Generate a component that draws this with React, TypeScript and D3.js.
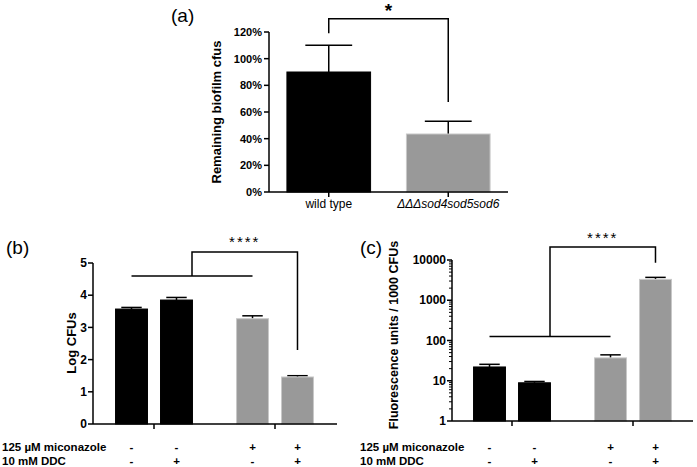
import * as d3 from "d3";

const W = 697;
const H = 467;

// (a) remaining biofilm
const aCats = ["wild type", "ΔΔΔsod4sod5sod6"];
const aMeans = [0.9, 0.435];
const aErr = [1.1, 0.53];
const aTicks = [0, 0.2, 0.4, 0.6, 0.8, 1.0, 1.2];

// (b) Log CFUs
const bMeans = [3.57, 3.85, 3.27, 1.46];
const bErr = [3.62, 3.93, 3.36, 1.5];
const bTicks = [0, 1, 2, 3, 4, 5];

// (c) fluorescence per 1000 CFUs
const cMeans = [22, 8.9, 37, 3300];
const cErr = [25.6, 9.6, 44, 3700];
const cTicks = [1, 10, 100, 1000, 10000];

const miconazole = ["-", "-", "+", "+"];
const ddc = ["-", "+", "-", "+"];
const barColors = ["#000000", "#000000", "#999999", "#999999"];

const font = "Liberation Sans, Arial, sans-serif";

function BarPanel({ y, yTicks, fmt, means, errs, axisX0, axisX1, groupRange, log, yLabel, yLabelX, yLabelY, yLabelSize, bracket, stars, starY }: any) {
  const groups = d3.scaleBand().domain(["g1", "g2"]).range(groupRange);
  const inner = d3.scaleBand().domain(["0", "1"]).range([0, groups.bandwidth()]).paddingInner(0.29).paddingOuter(0.49);
  const cx = (i: number) => groups(i < 2 ? "g1" : "g2")! + inner(String(i % 2))! + inner.bandwidth() / 2;
  const bw = inner.bandwidth();
  const y0 = y.range()[0];
  const minor: number[] = [];
  if (log) {
    for (let d = 1; d < 10000; d *= 10) for (let k = 2; k <= 9; k++) minor.push(d * k);
  }
  const [l1, l2, vx, topV, rx, rBot] = bracket;
  const yTop = y.range()[1];
  return (
    <g>
      {means.map((m: number, i: number) => (
        <g key={i}>
          <line x1={cx(i)} x2={cx(i)} y1={y(m)} y2={y(errs[i])} stroke="#000" strokeWidth={1.5} />
          <line x1={cx(i) - bw * 0.32} x2={cx(i) + bw * 0.32} y1={y(errs[i])} y2={y(errs[i])} stroke="#000" strokeWidth={1.5} />
          <rect x={cx(i) - bw / 2} y={y(m)} width={bw} height={y0 - y(m)} fill={barColors[i]} stroke={i < 2 ? "#000" : "#c8c8c8"} strokeWidth={1} />
        </g>
      ))}
      <line x1={axisX0} x2={axisX0} y1={yTop} y2={y0} stroke="#000" strokeWidth={1.5} />
      <line x1={axisX0} x2={axisX1} y1={y0} y2={y0} stroke="#000" strokeWidth={1.5} />
      {yTicks.map((t: number) => (
        <g key={t}>
          <line x1={axisX0 - 5} x2={axisX0} y1={y(t)} y2={y(t)} stroke="#000" strokeWidth={1.5} />
          <text x={axisX0 - 6} y={y(t)} dy="0.35em" textAnchor="end" fontSize={12} fontWeight="bold" fontFamily={font}>{fmt(t)}</text>
        </g>
      ))}
      {minor.map((t) => (
        <line key={t} x1={axisX0 - 3} x2={axisX0} y1={y(t)} y2={y(t)} stroke="#000" strokeWidth={1} />
      ))}
      {["g1", "g2"].map((g) => (
        <line key={g} x1={groups(g)! + groups.bandwidth() / 2} x2={groups(g)! + groups.bandwidth() / 2} y1={y0} y2={y0 + 5} stroke="#000" strokeWidth={1.5} />
      ))}
      <text transform={`translate(${yLabelX},${yLabelY}) rotate(-90)`} textAnchor="middle" fontSize={yLabelSize} fontWeight="bold" fontFamily={font}>{yLabel}</text>
      {/* comparison bracket */}
      <path d={`M${cx(l1)},${y(l2)}H${cx(2)}`} stroke="#000" strokeWidth={1.5} fill="none" />
      <path d={`M${vx},${y(l2)}V${y(topV)}H${cx(rx)}V${y(rBot)}`} stroke="#000" strokeWidth={1.5} fill="none" />
      <text x={(vx + cx(rx)) / 2} y={starY} textAnchor="middle" fontSize={15} fontFamily={font} letterSpacing={2}>{stars}</text>
      {miconazole.map((s, i) => (
        <text key={"m" + i} x={cx(i)} y={451} textAnchor="middle" fontSize={11.5} fontWeight="bold" fontFamily={font}>{s}</text>
      ))}
      {ddc.map((s, i) => (
        <text key={"d" + i} x={cx(i)} y={465} textAnchor="middle" fontSize={11.5} fontWeight="bold" fontFamily={font}>{s}</text>
      ))}
    </g>
  );
}

export default function App() {
  // panel (a)
  const ax = d3.scaleBand().domain(aCats).range([269, 508]).paddingInner(0.3).paddingOuter(0.15);
  const ay = d3.scaleLinear().domain([0, 1.2]).range([192, 32]);
  const acx = (c: string) => ax(c)! + ax.bandwidth() / 2;
  const abw = ax.bandwidth();

  const by = d3.scaleLinear().domain([0, 5]).range([424, 263]);
  const cy = d3.scaleLog().domain([1, 10000]).range([421, 260]);

  return (
    <svg width={W} height={H} style={{ position: "absolute", left: 0, top: 0, background: "#fff" }}>
      <rect width={W} height={H} fill="#fff" />
      {/* (a) */}
      <text x={171} y={22} fontSize={19} fontFamily={font}>(a)</text>
      {aCats.map((c, i) => (
        <g key={c}>
          <line x1={acx(c)} x2={acx(c)} y1={ay(aMeans[i])} y2={ay(aErr[i])} stroke="#000" strokeWidth={1.5} />
          <line x1={acx(c) - abw * 0.28} x2={acx(c) + abw * 0.28} y1={ay(aErr[i])} y2={ay(aErr[i])} stroke="#000" strokeWidth={1.5} />
          <rect x={ax(c)} y={ay(aMeans[i])} width={abw} height={ay(0) - ay(aMeans[i])} fill={i === 0 ? "#000" : "#999999"} stroke={i === 0 ? "#000" : "#c8c8c8"} />
          <line x1={acx(c)} x2={acx(c)} y1={ay(0)} y2={ay(0) + 5} stroke="#000" strokeWidth={1.5} />
        </g>
      ))}
      <line x1={269} x2={269} y1={ay(1.2)} y2={ay(0)} stroke="#000" strokeWidth={1.5} />
      <line x1={269} x2={508} y1={ay(0)} y2={ay(0)} stroke="#000" strokeWidth={1.5} />
      {aTicks.map((t) => (
        <g key={t}>
          <line x1={264} x2={269} y1={ay(t)} y2={ay(t)} stroke="#000" strokeWidth={1.5} />
          <text x={262} y={ay(t)} dy="0.35em" textAnchor="end" fontSize={11} fontWeight="bold" fontFamily={font}>{d3.format(".0%")(t)}</text>
        </g>
      ))}
      <text x={acx(aCats[0])} y={208} textAnchor="middle" fontSize={12} fontFamily={font}>wild type</text>
      <text x={acx(aCats[1])} y={208} textAnchor="middle" fontSize={12} fontStyle="italic" fontFamily={font}>{aCats[1]}</text>
      <text transform={`translate(221,${ay(0.6)}) rotate(-90)`} textAnchor="middle" fontSize={13} fontWeight="bold" fontFamily={font}>Remaining biofilm cfus</text>
      <path d={`M${acx(aCats[0])},${ay(1.19)}V${ay(1.3)}H${acx(aCats[1])}V${ay(0.675)}`} stroke="#000" strokeWidth={1.5} fill="none" />
      <text x={(acx(aCats[0]) + acx(aCats[1])) / 2} y={17} textAnchor="middle" fontSize={19} fontWeight="bold" fontFamily={font}>*</text>

      {/* (b) */}
      <text x={6} y={254} fontSize={19} fontFamily={font}>(b)</text>
      <text x={2} y={451} fontSize={11.5} fontWeight="bold" fontFamily={font}>125 µM miconazole</text>
      <text x={2} y={465} fontSize={11.5} fontWeight="bold" fontFamily={font}>10 mM DDC</text>
      <BarPanel y={by} yTicks={bTicks} fmt={(t: number) => String(t)} means={bMeans} errs={bErr}
        axisX0={93} axisX1={337} groupRange={[93.5, 335.5]} log={false} yLabel="Log CFUs" yLabelX={76} yLabelY={343} yLabelSize={13}
        bracket={[0, 4.6, 192, 5.34, 3, 2.3]} stars="****" starY={247} />

      {/* (c) */}
      <text x={360} y={254} fontSize={19} fontFamily={font}>(c)</text>
      <text x={360} y={451} fontSize={11.5} fontWeight="bold" fontFamily={font}>125 µM miconazole</text>
      <text x={360} y={465} fontSize={11.5} fontWeight="bold" fontFamily={font}>10 mM DDC</text>
      <BarPanel y={cy} yTicks={cTicks} fmt={(t: number) => String(t)} means={cMeans} errs={cErr}
        axisX0={452} axisX1={693} groupRange={[451.5, 693.5]} log={true} yLabel="Fluorescence units / 1000  CFUs" yLabelX={398} yLabelY={335} yLabelSize={12.5}
        bracket={[0, 126, 550, 21000, 3, 8500]} stars="****" starY={243} />
    </svg>
  );
}
